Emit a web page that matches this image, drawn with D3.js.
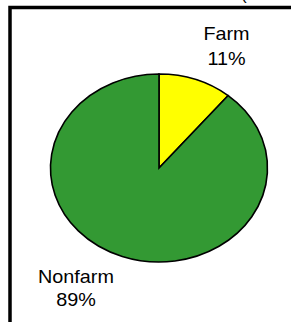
<!DOCTYPE html>
<html>
<head>
<meta charset="utf-8">
<script src="https://cdn.jsdelivr.net/npm/d3@7"></script>
<style>
  html, body { margin: 0; padding: 0; background: #fff; }
  svg { display: block; }
  text { font-family: "Liberation Sans", Arial, sans-serif; fill: #000; }
</style>
</head>
<body>
<svg width="291" height="322"></svg>
<script>
// data
const categories = ["Farm", "Nonfarm"];
const shares = [11, 89];
const colors = ["#ffff00", "#339933"];
const pctLabels = ["11%", "89%"];

// layout (label anchors)
const labelPos = [[226.5, 40], [76, 283]];
const lineGap = [25.5, 23.5];

const svg = d3.select("svg");

// frame (cut off at right and bottom)
svg.append("rect")
    .attr("x", 10).attr("y", 7.5)
    .attr("width", 400).attr("height", 400)
    .attr("fill", "none")
    .attr("stroke", "#000")
    .attr("stroke-width", 3.5);

// clipped title fragment at the top
svg.append("text")
    .attr("x", 241).attr("y", 0)
    .attr("font-size", 17)
    .text("(");

const rx = 108.5, ry = 94;
const cx = 159, cy = 168;

const pie = d3.pie().sort(null).value(d => d);
const arc = d3.arc().innerRadius(0).outerRadius(rx);

const g = svg.append("g")
    .attr("transform", `translate(${cx},${cy}) scale(1,${ry / rx})`);

g.selectAll("path")
    .data(pie(shares))
    .enter().append("path")
        .attr("d", arc)
        .attr("fill", (d, i) => colors[i])
        .attr("stroke", "#000")
        .attr("stroke-width", 1.6)
        .attr("vector-effect", "non-scaling-stroke");

const labels = svg.selectAll("g.label")
    .data(categories)
    .enter().append("g")
        .attr("class", "label")
        .attr("transform", (d, i) => `translate(${labelPos[i][0]},${labelPos[i][1]}) scale(1.1,1)`);

labels.append("text")
    .attr("text-anchor", "middle")
    .attr("font-size", 18)
    .text(d => d);

labels.append("text")
    .attr("text-anchor", "middle")
    .attr("font-size", 18)
    .attr("y", (d, i) => lineGap[i])
    .text((d, i) => pctLabels[i]);
</script>
</body>
</html>
